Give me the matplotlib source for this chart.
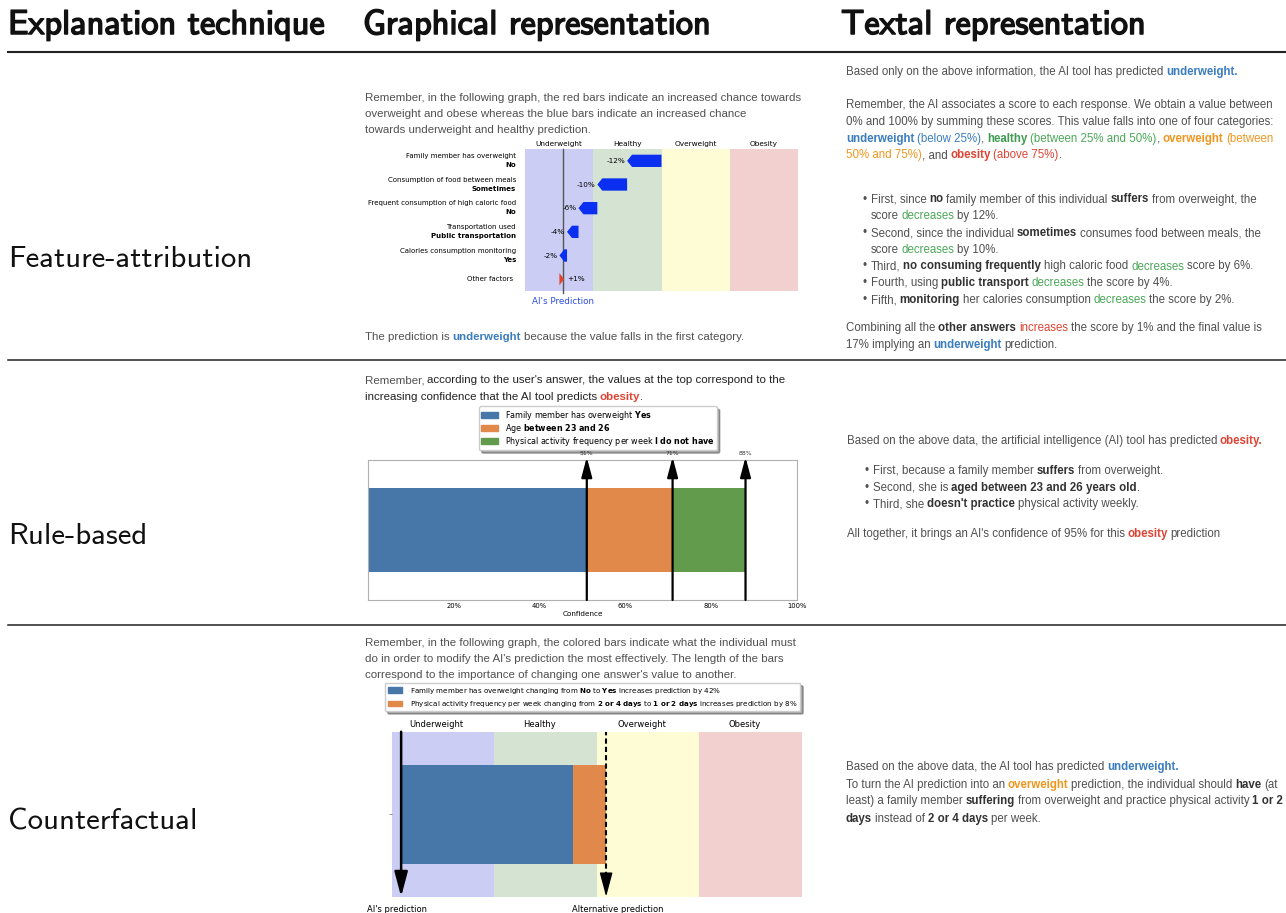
import re
import matplotlib
matplotlib.use('Agg')
import matplotlib.pyplot as plt
import matplotlib.patheffects as pe
from matplotlib.lines import Line2D
from matplotlib.patches import Patch
from matplotlib.transforms import blended_transform_factory

W, H = 1286, 913

# ---- data ----
bands = ['Underweight', 'Healthy', 'Overweight', 'Obesity']
band_edges = [0, 25, 50, 75, 100]
band_colors = ['#cbcdf4', '#d4e3d2', '#fefcd4', '#f1d0cf']

# feature attribution (waterfall)
fa_features = ['Family member has overweight', 'Consumption of food between meals',
               'Frequent consumption of high caloric food', 'Transportation used',
               'Calories consumption monitoring', 'Other factors']
fa_answers = ['No', 'Sometimes', 'No', 'Public transportation', 'Yes', '']
fa_start = 50
fa_shift = [-12.6, -10.9, -6.9, -4.2, -2.8, 1.7]
fa_labels = ['-12%', '-10%', '-6%', '-4%', '-2%', '+1%']
fa_prediction = 14

# rule based
rb_rules = ['Family member has overweight $\\mathbf{Yes}$',
            'Age $\\mathbf{between\\ 23\\ and\\ 26}$',
            'Physical activity frequency per week $\\mathbf{I\\ do\\ not\\ have}$']
rb_conf = [51, 71, 88]
rb_colors = ['#4776a9', '#e0894a', '#629b4b']
rb_ticks = [20, 40, 60, 80, 100]

# counterfactual
cf_changes = ['Family member has overweight changing from $\\mathbf{No}$ to $\\mathbf{Yes}$ increases prediction by 42%',
              'Physical activity frequency per week changing from $\\mathbf{2\\ or\\ 4\\ days}$ to '
              '$\\mathbf{1\\ or\\ 2\\ days}$ increases prediction by 8%']
cf_start = 2.3
cf_gain = [42, 8]
cf_colors = ['#4776a9', '#e0894a']

fig = plt.figure(figsize=(W / 100, H / 100), dpi=100)
renderer = fig.canvas.get_renderer()


def fx(x):
    return x / W


def fy(y):
    return 1 - y / H


def axes_px(x0, y0, x1, y1):
    return fig.add_axes([x0 / W, 1 - y1 / H, (x1 - x0) / W, (y1 - y0) / H])


def width_of(s, **kw):
    t = fig.text(0, 0, s, **kw)
    w = t.get_window_extent(renderer).width
    t.remove()
    return w


def fit_size(s, target, **kw):
    return 10 * target / width_of(s, fontsize=10, **kw)


GREY = '#505050'
STYLES = {
    None: (GREY, 'normal'),
    'b': ('#333333', 'bold'),
    'k': ('#222222', 'normal'),
    'U': ('#3b7dbf', 'bold'), 'u': ('#3b7dbf', 'normal'),
    'H': ('#3e9b4f', 'bold'), 'h': ('#4aa757', 'normal'),
    'O': ('#f0961f', 'bold'), 'o': ('#f0961f', 'normal'),
    'X': ('#dd4433', 'bold'), 'x': ('#dd4433', 'normal'),
}


def rich(x, y, markup, size, family='Liberation Sans'):
    parts = []
    pos = 0
    for m in re.finditer(r'<(\w)>(.*?)</>', markup):
        if m.start() > pos:
            parts.append((markup[pos:m.start()], None))
        parts.append((m.group(2), m.group(1)))
        pos = m.end()
    if pos < len(markup):
        parts.append((markup[pos:], None))
    sp = 0.85 * (width_of('a a', fontsize=size, family=family)
                 - width_of('aa', fontsize=size, family=family))
    for s, st in parts:
        color, weight = STYLES[st]
        core = s.strip(' ')
        if not core:
            x += len(s) * sp
            continue
        x += (len(s) - len(s.lstrip(' '))) * sp
        t = fig.text(fx(x), fy(y), core, color=color, va='baseline', ha='left',
                     fontsize=size, family=family, weight=weight)
        x += t.get_window_extent(renderer).width
        x += (len(s) - len(s.rstrip(' '))) * sp


def bullets(x, y0, step, lines, size):
    for i, ln in enumerate(lines):
        y = y0 + i * step
        if ln.startswith('*'):
            fig.text(fx(x), fy(y), '\u2022', fontsize=size, color=GREY,
                     family='Liberation Sans', va='baseline')
        rich(x + 8.5, y, ln[1:], size)


# ---- headers and rules ----
hdr_kw = dict(family='cmss10')
hs = fit_size('Explanation technique', 318, **hdr_kw)
bold = [pe.withStroke(linewidth=1.1, foreground='#111111')]
for x, s in [(8, 'Explanation technique'), (363, 'Graphical representation'),
             (841, 'Textal representation')]:
    fig.text(fx(x), fy(34), s, fontsize=hs, color='#111111', va='baseline',
             path_effects=bold, **hdr_kw)
fig.add_artist(Line2D([fx(8), 1], [fy(52), fy(52)], color='#222222', lw=1.5))
for y in [360.5, 625]:
    fig.add_artist(Line2D([fx(8), 1], [fy(y), fy(y)], color='#222222', lw=1.1))

rs = fit_size('Feature-attribution', 244, **hdr_kw)
for y, s in [(267, 'Feature-attribution'), (544, 'Rule-based'), (829, 'Counterfactual')]:
    fig.text(fx(8), fy(y), s, fontsize=rs, color='#111111', va='baseline', **hdr_kw)

ps = fit_size('Remember, in the following graph, the red bars indicate an increased chance towards',
              434, family='Liberation Sans')
ts = fit_size('Remember, the AI associates a score to each response. We obtain a value between',
              428, family='Liberation Sans')

# ---- row 1: feature attribution ----
rich(365, 101, 'Remember, in the following graph, the red bars indicate an increased chance towards', ps)
rich(365, 117, 'overweight and obese whereas the blue bars indicate an increased chance', ps)
rich(365, 133, 'towards underweight and healthy prediction.', ps)
rich(365, 339.5, 'The prediction is <U>underweight</> because the value falls in the first category.', ps)

ax1 = axes_px(525, 149, 798, 291)
ax1.set_xlim(0, 100)
ax1.set_ylim(5.5, -0.5)
ax1.axis('off')
for i in range(4):
    ax1.axvspan(band_edges[i], band_edges[i + 1], color=band_colors[i], lw=0, zorder=0)
    ax1.text((band_edges[i] + band_edges[i + 1]) / 2, 1.015, bands[i], fontsize=5.3,
             ha='center', va='bottom', transform=ax1.get_xaxis_transform())
ax1.plot([fa_prediction, fa_prediction], [-0.5, 5.58], color='#555555', lw=1.0,
         clip_on=False, zorder=1)
ax1.text(fa_prediction, 5.95, "AI's Prediction", color='#2b4de0', fontsize=6.3,
         ha='center', va='center')
ytr = blended_transform_factory(ax1.transAxes, ax1.transData)
pos = fa_start
for i, d in enumerate(fa_shift):
    col = '#e0452c' if d > 0 else '#0a2ff0'
    ax1.arrow(pos, i, d, 0, width=0.52, head_width=0.52, head_length=min(1.8, abs(d)),
              length_includes_head=True, color=col, lw=0, zorder=2)
    end = pos + d
    if d < 0:
        ax1.text(end - 0.7, i, fa_labels[i], ha='right', va='center', fontsize=5.2, zorder=3)
    else:
        ax1.text(end + 1.0, i, fa_labels[i], ha='left', va='center', fontsize=5.2, zorder=3)
    pos = end
    if fa_answers[i]:
        ax1.text(-0.033, i - 0.2, fa_features[i], transform=ytr, ha='right', va='center', fontsize=5.0)
        ax1.text(-0.033, i + 0.17, fa_answers[i], transform=ytr, ha='right', va='center',
                 fontsize=5.0, weight='bold')
    else:
        ax1.text(-0.045, i, fa_features[i], transform=ytr, ha='right', va='center', fontsize=5.0)

rich(846, 75, 'Based only on the above information, the AI tool has predicted <U>underweight.</>', ts)
rich(846, 108, 'Remember, the AI associates a score to each response. We obtain a value between', ts)
rich(846, 125, '0% and 100% by summing these scores. This value falls into one of four categories:', ts)
rich(846, 142, '<U>underweight</><u> (below 25%)</>, <H>healthy</><h> (between 25% and 50%)</>, '
               '<O>overweight</><o> (between</>', ts)
rich(846, 158, '<o>50% and 75%)</>, and <X>obesity</><x> (above 75%)</>.', ts)
bullets(862.5, 202.5, 16.75, [
    '*First, since <b>no</> family member of this individual <b>suffers</> from overweight, the',
    '-score <h>decreases</> by 12%.',
    '*Second, since the individual <b>sometimes</> consumes food between meals, the',
    '-score <h>decreases</> by 10%.',
    '*Third, <b>no consuming frequently</> high caloric food <h>decreases</> score by 6%.',
    '*Fourth, using <b>public transport</> <h>decreases</> the score by 4%.',
    '*Fifth, <b>monitoring</> her calories consumption <h>decreases</> the score by 2%.',
], ts)
rich(846, 331, 'Combining all the <b>other answers</> <x>increases</> the score by 1% and the final value is', ts)
rich(846, 348, '17% implying an <U>underweight</> prediction.', ts)

# ---- row 2: rule based ----
rich(365, 383, "Remember,<k> according to the user's answer, the values at the top correspond to the</>", ps)
rich(365, 399.5, '<k>increasing confidence that the AI tool predicts </><X>obesity</><k>.</>', ps)

ax2 = axes_px(368, 460, 797, 600)
lefts = [0] + rb_conf[:-1]
widths = [c - l for c, l in zip(rb_conf, lefts)]
ax2.barh([0, 0, 0], widths, left=lefts, height=0.6, color=rb_colors, zorder=1)
ax2.set_xlim(0, 100)
ax2.set_ylim(-0.5, 0.5)
ax2.set_xticks(rb_ticks, [f'{t}%' for t in rb_ticks], fontsize=4.9)
ax2.set_yticks([])
ax2.tick_params(axis='x', length=0, pad=2)
ax2.set_xlabel('Confidence', fontsize=5.2, labelpad=1.5)
for sp in ax2.spines.values():
    sp.set_color('#b0b0b0')
    sp.set_linewidth(0.8)
for c in rb_conf:
    ax2.annotate('', xy=(c, 0.52), xytext=(c, -0.5), annotation_clip=False,
                 arrowprops=dict(arrowstyle='-|>,head_length=1.2,head_width=0.32', color='k',
                                 lw=1.6, shrinkA=0, shrinkB=0, mutation_scale=10), zorder=3)
    ax2.text(c, 0.53, f'{c}%', ha='center', va='bottom', fontsize=4.4, color='#333333')
leg2 = fig.legend([Patch(color=c) for c in rb_colors], rb_rules, loc='upper left',
                  bbox_to_anchor=(fx(479), fy(406.5)), borderaxespad=0, fontsize=5.8, shadow=True,
                  fancybox=True, framealpha=1, edgecolor='#cccccc', labelspacing=0.0,
                  handletextpad=0.9, borderpad=0.3)
leg2.set_zorder(-1)

rich(846.5, 444, 'Based on the above data, the artificial intelligence (AI) tool has predicted <X>obesity.</>', ts)
bullets(864.5, 473.5, 17, [
    '*First, because a family member <b>suffers</> from overweight.',
    '*Second, she is <b>aged between 23 and 26 years old</>.',
    "*Third, she <b>doesn't practice</> physical activity weekly.",
], ts)
rich(846.5, 537, "All together, it brings an AI's confidence of 95% for this <X>obesity</> prediction", ts)

# ---- row 3: counterfactual ----
rich(365, 646, 'Remember, in the following graph, the colored bars indicate what the individual must', ps)
rich(365, 662, "do in order to modify the AI's prediction the most effectively. The length of the bars", ps)
rich(365, 678, "correspond to the importance of changing one answer's value to another.", ps)

ax3 = axes_px(391.7, 731.7, 801.7, 896.7)
ax3.set_xlim(0, 100)
ax3.set_ylim(-0.5, 0.5)
for sp in ax3.spines.values():
    sp.set_visible(False)
ax3.set_xticks([])
ax3.set_yticks([0], [''])
ax3.tick_params(axis='y', length=2, width=0.5, color='#666666')
for i in range(4):
    ax3.axvspan(band_edges[i], band_edges[i + 1], color=band_colors[i], lw=0, zorder=0)
    ax3.text((band_edges[i] + band_edges[i + 1]) / 2 - 1.5, 1.015, bands[i], fontsize=6.0,
             ha='center', va='bottom', transform=ax3.get_xaxis_transform())
cf_left = [cf_start, cf_start + cf_gain[0]]
ax3.barh([0, 0], cf_gain, left=cf_left, height=0.6, color=cf_colors, zorder=1)
cf_end = cf_start + sum(cf_gain)
ax3.annotate('', xy=(cf_start, -0.5), xytext=(cf_start, 0.5), annotation_clip=False,
             arrowprops=dict(arrowstyle='-|>,head_length=1.5,head_width=0.4', color='k',
                             lw=1.8, shrinkA=0, shrinkB=0, mutation_scale=10), zorder=3)
ax3.vlines(cf_end, -0.38, 0.5, colors='k', linestyles=(0, (2.5, 1.5)), lw=1.5, zorder=3)
ax3.annotate('', xy=(cf_end, -0.5), xytext=(cf_end, -0.38), annotation_clip=False,
             arrowprops=dict(arrowstyle='-|>,head_length=1.5,head_width=0.4', color='k',
                             lw=1.0, shrinkA=0, shrinkB=0, mutation_scale=10), zorder=3)
ax3.text(cf_start - 1.0, -0.55, "AI's prediction", ha='center', va='top', fontsize=6.0)
ax3.text(cf_end + 2.8, -0.55, 'Alternative prediction', ha='center', va='top', fontsize=6.0)
fig.legend([Patch(color=c) for c in cf_colors], cf_changes, loc='upper left',
           bbox_to_anchor=(fx(385), fy(683)), borderaxespad=0, fontsize=5.15, shadow=True,
           fancybox=True, framealpha=1, edgecolor='#cccccc', labelspacing=0.45, handletextpad=1.2,
           handlelength=2.0, borderpad=0.35)

rich(846, 770, 'Based on the above data, the AI tool has predicted <U>underweight.</>', ts)
rich(846, 787.5, 'To turn the AI prediction into an <O>overweight</> prediction, the individual should <b>have</> (at', ts)
rich(846, 804, 'least) a family member <b>suffering</> from overweight and practice physical activity <b>1 or 2</>', ts)
rich(846, 821.5, '<b>days</> instead of <b>2 or 4 days</> per week.', ts)

fig.savefig('out.png', dpi=100, facecolor='white')
